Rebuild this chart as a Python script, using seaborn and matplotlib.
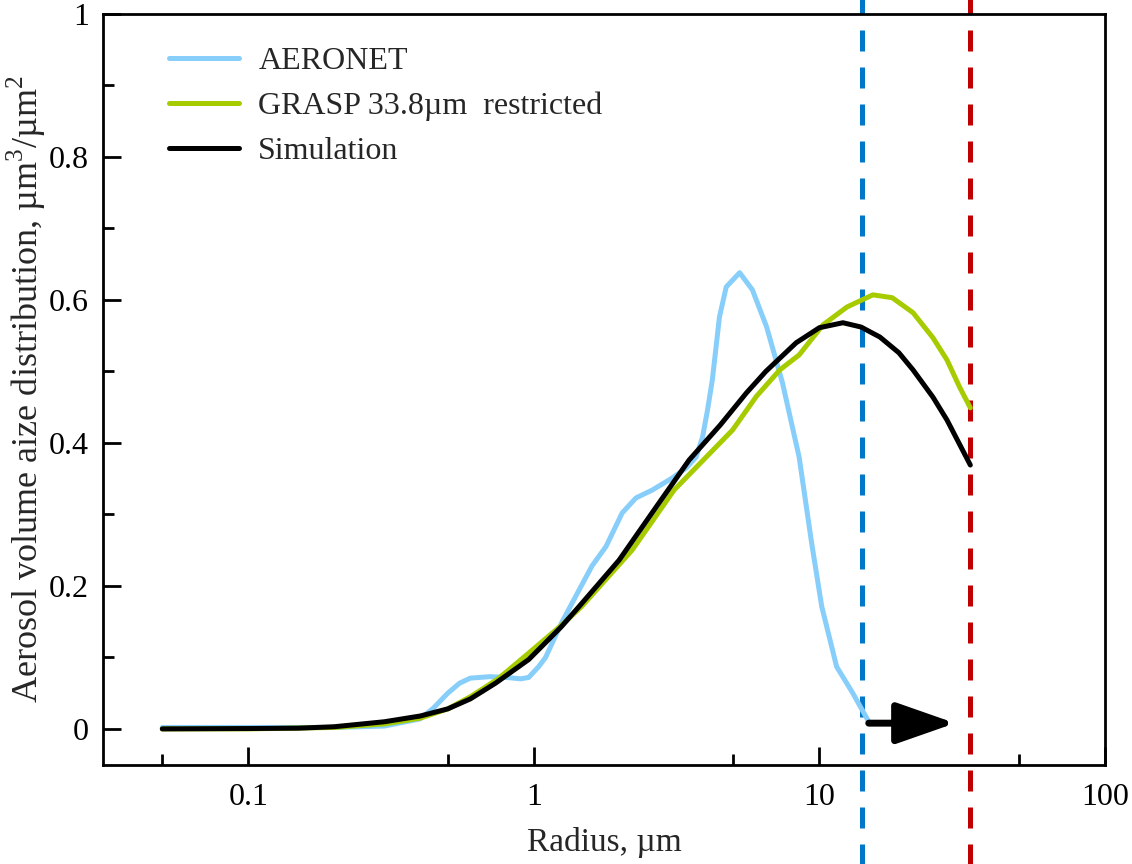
import matplotlib
matplotlib.use('Agg')
import matplotlib.pyplot as plt
import matplotlib.ticker as mticker
import seaborn as sns

# AERONET retrieval
aeronet_r = [0.05, 0.1, 0.2, 0.3, 0.4, 0.445, 0.5, 0.55, 0.6, 0.7, 0.8, 0.9,
             0.96, 1.04, 1.1, 1.25, 1.44, 1.6, 1.79, 2.04, 2.28, 2.6, 3.06,
             3.42, 3.7, 3.9, 4.06, 4.22, 4.47, 4.72, 5.26, 5.83, 6.54, 7.43,
             8.5, 9.4, 10.2, 11.5, 13.1, 14.9]
aeronet_v = [0.002, 0.002, 0.002, 0.004, 0.014, 0.029, 0.05, 0.064, 0.071,
             0.073, 0.072, 0.070, 0.072, 0.087, 0.10, 0.148, 0.194, 0.228,
             0.255, 0.302, 0.323, 0.334, 0.351, 0.365, 0.38, 0.408, 0.446,
             0.488, 0.576, 0.618, 0.638, 0.614, 0.562, 0.484, 0.38, 0.26,
             0.171, 0.087, 0.05, 0.01]

# GRASP retrieval, restricted to 33.8 um
grasp_r = [0.05, 0.1, 0.2, 0.3, 0.4, 0.5, 0.6, 0.75, 0.96, 1.25, 1.47, 2.21,
           3.1, 4.97, 6.02, 7.27, 8.5, 10.3, 12.5, 15.4, 18, 21.3, 25, 28,
           31, 33.8]
grasp_v = [0.0, 0.0, 0.002, 0.007, 0.015, 0.028, 0.045, 0.07, 0.106, 0.145,
           0.171, 0.25, 0.334, 0.418, 0.465, 0.502, 0.523, 0.565, 0.59,
           0.607, 0.603, 0.582, 0.547, 0.516, 0.478, 0.449]

# simulation
sim_r = [0.05, 0.1, 0.15, 0.2, 0.3, 0.4, 0.5, 0.6, 0.735, 0.96, 1.25, 1.44,
         1.99, 2.68, 3.5, 4.5, 5.56, 6.5, 8.3, 10, 12.1, 14, 16.3, 19, 21.3,
         25, 28, 33.8]
sim_v = [0.0, 0.0005, 0.001, 0.003, 0.01, 0.018, 0.028, 0.042, 0.064, 0.097,
         0.143, 0.171, 0.236, 0.31, 0.376, 0.425, 0.47, 0.50, 0.54, 0.561,
         0.568, 0.562, 0.548, 0.526, 0.502, 0.464, 0.432, 0.369]

# radius limits and arrow
aeronet_max = 14.1
grasp_max = 33.8
arrow_start, arrow_end, arrow_y = 14.9, 29.9, 0.008

x_ticks = [0.1, 1, 10, 100]
x_ticklabels = ['0.1', '1', '10', '100']
x_minor = [0.05, 0.5, 5, 50]

if __name__ == '__main__':
    sns.set_style('ticks')
    plt.rcParams['font.family'] = ['Liberation Serif', 'DejaVu Serif']
    plt.rcParams['mathtext.fontset'] = 'custom'
    plt.rcParams['mathtext.rm'] = 'Liberation Serif'

    fig, ax = plt.subplots(figsize=(11.32, 8.64), dpi=100)
    fig.subplots_adjust(left=0.091, right=0.976, top=0.984, bottom=0.115)

    # dashed radius limits, running past the axes
    dash_kws = dict(lw=3.6, dashes=(4.2, 3.2), ymin=-0.135, ymax=1.02,
                    clip_on=False, zorder=1.5)
    ax.axvline(aeronet_max, color='#0077C8', **dash_kws)
    ax.axvline(grasp_max, color='#C00000', **dash_kws)

    # size distributions
    sns.lineplot(x=aeronet_r, y=aeronet_v, color='#87CEFA', lw=3.6,
                 label='AERONET', ax=ax)
    sns.lineplot(x=grasp_r, y=grasp_v, color='#A6CC00', lw=3.6,
                 label='GRASP 33.8\u00b5m  restricted', ax=ax)
    sns.lineplot(x=sim_r, y=sim_v, color='black', lw=3.6,
                 label='Simulation', ax=ax)

    ax.annotate('', xy=(arrow_end, arrow_y), xytext=(arrow_start, arrow_y),
                arrowprops=dict(arrowstyle='-|>,head_length=0.8,head_width=0.28',
                                color='black', lw=5, mutation_scale=45,
                                shrinkA=0, shrinkB=0), zorder=4)

    # axes
    ax.set_xscale('log')
    ax.set_xlim(0.031, 100)
    ax.set_ylim(-0.05, 1.0)
    ax.xaxis.set_major_locator(mticker.FixedLocator(x_ticks))
    ax.xaxis.set_major_formatter(mticker.FixedFormatter(x_ticklabels))
    ax.xaxis.set_minor_locator(mticker.FixedLocator(x_minor))
    ax.xaxis.set_minor_formatter(mticker.NullFormatter())
    ax.yaxis.set_major_locator(mticker.MultipleLocator(0.2))
    ax.yaxis.set_major_formatter(mticker.FuncFormatter(
        lambda v, p: '0' if abs(v) < 1e-9 else ('1' if abs(v - 1) < 1e-9 else f'{v:.1f}')))
    ax.yaxis.set_minor_locator(mticker.MultipleLocator(0.1))

    ax.tick_params(which='both', direction='in', width=2, labelsize=23,
                   colors='black', top=False, right=False)
    ax.tick_params(which='major', length=13)
    ax.tick_params(which='minor', length=8)
    ax.tick_params(axis='x', which='major', pad=13)
    ax.tick_params(axis='y', which='major', pad=10)
    for s in ax.spines.values():
        s.set_linewidth(2)
        s.set_color('black')

    ax.set_xlabel('Radius, \u00b5m', fontsize=24, labelpad=11)
    ax.set_ylabel('Aerosol volume aize distribution, \u00b5m$^3$/\u00b5m$^2$',
                  fontsize=26, labelpad=1)

    ax.legend(loc='upper left', bbox_to_anchor=(0.037, 0.995), frameon=False,
              fontsize=23, handlelength=2.2, handletextpad=0.6,
              labelspacing=0.5)

    plt.savefig('out.png', dpi=100, facecolor='white')
